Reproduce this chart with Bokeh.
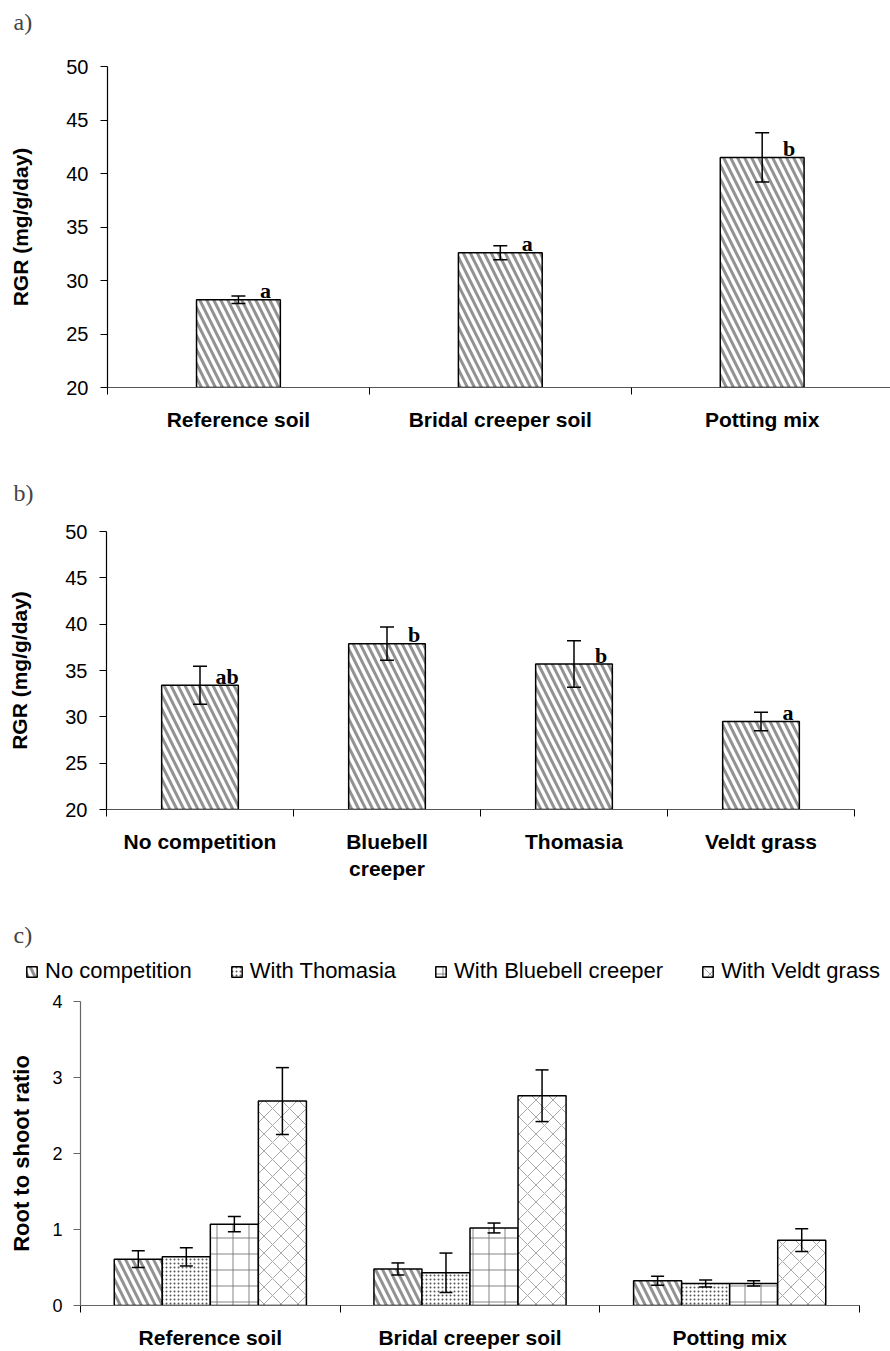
from bokeh.plotting import figure
from bokeh.models import (Range1d, FixedTicker, ColumnDataSource, Whisker, TeeHead,
                          Legend, LegendItem)
from bokeh.layouts import column, row
from bokeh.core.properties import value
from bokeh.embed import file_html
from bokeh.resources import INLINE

# ---------------- data ----------------
soils = ["Reference soil", "Bridal creeper soil", "Potting mix"]
rgr_soil = [28.2, 32.6, 41.5]
rgr_soil_err = [0.35, 0.65, 2.3]
letters_soil = ["a", "a", "b"]

competitors = ["No competition", "Bluebell\ncreeper", "Thomasia", "Veldt grass"]
rgr_comp = [33.4, 37.9, 35.7, 29.5]
rgr_comp_err = [2.05, 1.8, 2.5, 1.0]
letters_comp = ["ab", "b", "b", "a"]

treatments = ["No competition", "With Thomasia", "With Bluebell creeper", "With Veldt grass"]
rs_none = [0.61, 0.48, 0.325]
rs_none_err = [0.11, 0.08, 0.06]
rs_thomasia = [0.64, 0.43, 0.29]
rs_thomasia_err = [0.12, 0.26, 0.045]
rs_bluebell = [1.07, 1.02, 0.29]
rs_bluebell_err = [0.10, 0.065, 0.035]
rs_veldt = [2.69, 2.76, 0.86]
rs_veldt_err = [0.44, 0.34, 0.15]

rgr_ticks = [20, 25, 30, 35, 40, 45, 50]
rs_ticks = [0, 1, 2, 3, 4]

SANS = "Liberation Sans"
SERIF = "Liberation Serif"


def make_head(title, top, frame_h):
    """A strip holding the panel letter (and, for c, the legend)."""
    h = figure(frame_width=890, frame_height=frame_h, min_border_left=0, min_border_right=0,
               min_border_top=top, min_border_bottom=0, x_range=Range1d(0, 3),
               y_range=Range1d(0, 4), output_backend="svg", toolbar_location=None,
               title=title, x_axis_location=None, y_axis_location=None)
    h.outline_line_color = None
    h.xgrid.visible = False
    h.ygrid.visible = False
    h.background_fill_color = "white"
    h.border_fill_color = "white"
    h.title.text_font = SERIF
    h.title.text_font_style = "normal"
    h.title.text_font_size = "24px"
    h.title.align = "left"
    h.title.offset = 13
    h.title.standoff = 0
    return h


def base_fig(fw, fh, left, top, bottom, right, xr, yr):
    p = figure(frame_width=fw, frame_height=fh, min_border_left=left, min_border_top=top,
               min_border_bottom=bottom, min_border_right=right,
               x_range=xr, y_range=yr, output_backend="svg", toolbar_location=None)
    p.outline_line_color = None
    p.xgrid.visible = False
    p.ygrid.visible = False
    p.background_fill_color = "white"
    p.border_fill_color = "white"
    return p


def style_x(p, labels, font_size="21px"):
    n = len(labels)
    centers = [i + 0.5 for i in range(n)]
    ax = p.xaxis[0]
    ax.ticker = FixedTicker(ticks=centers, minor_ticks=list(range(n + 1)))
    ax.major_label_overrides = {c: l for c, l in zip(centers, labels)}
    ax.major_tick_out = 0
    ax.major_tick_in = 0
    ax.minor_tick_out = 7
    ax.minor_tick_in = 0
    ax.minor_tick_line_color = "black"
    ax.axis_line_color = "#555555"
    ax.axis_line_width = 1.2
    ax.major_label_text_font = SANS
    ax.major_label_text_font_style = "bold"
    ax.major_label_text_font_size = font_size
    ax.major_label_text_color = "black"
    ax.major_label_standoff = 13


def style_y(p, ticks, title, tick_fs, title_fs, tick_standoff, title_standoff, line_color):
    ax = p.yaxis[0]
    ax.ticker = FixedTicker(ticks=ticks)
    ax.major_tick_out = 7
    ax.major_tick_in = 0
    ax.minor_tick_out = 0
    ax.minor_tick_in = 0
    ax.axis_line_color = line_color
    ax.major_tick_line_color = line_color
    ax.axis_line_width = 1.2
    ax.major_label_text_font = SANS
    ax.major_label_text_font_size = tick_fs
    ax.major_label_text_color = "black"
    ax.major_label_standoff = tick_standoff
    ax.axis_label = title
    ax.axis_label_text_font = SANS
    ax.axis_label_text_font_style = "bold"
    ax.axis_label_text_font_size = title_fs
    ax.axis_label_text_color = "black"
    ax.axis_label_standoff = title_standoff


STRIPE = dict(hatch_pattern="\\", hatch_scale=14, hatch_weight=3, hatch_color="#929292")
BAR = dict(fill_color="white", line_color="black", line_width=1.5)


def add_whiskers(p, src, size):
    w = Whisker(base="x", upper="upper", lower="lower", source=src,
                line_color="black", line_width=1.5, level="overlay",
                upper_head=TeeHead(size=size, line_width=1.5, line_color="black"),
                lower_head=TeeHead(size=size, line_width=1.5, line_color="black"))
    p.add_layout(w)


def single_panel(labels, vals, errs, letters, fw, fh, left, top, bottom, right,
                 xr_end, bar_w):
    p = base_fig(fw, fh, left, top, bottom, right, Range1d(0, xr_end), Range1d(20, 50))
    xs = [i + 0.5 for i in range(len(labels))]
    src = ColumnDataSource(dict(x=xs, top=vals,
                                upper=[v + e for v, e in zip(vals, errs)],
                                lower=[v - e for v, e in zip(vals, errs)],
                                letters=letters))
    p.vbar(x="x", top="top", bottom=20, width=bar_w, source=src, **BAR, **STRIPE)
    add_whiskers(p, src, 14)
    p.text(x="x", y="top", text="letters", source=src, x_offset=27, y_offset=-9,
           text_align="center", text_baseline="alphabetic", text_font=value(SERIF),
           text_font_style="bold", text_font_size="22px", text_color="black",
           level="overlay")
    style_x(p, labels)
    style_y(p, rgr_ticks, "RGR (mg/g/day)", "20px", "21px", 12, 31, "black")
    return p


head_a = make_head("a)", 34, 1)
pa = single_panel(soils, rgr_soil, rgr_soil_err, letters_soil,
                  783, 321, 107, 31, 73, 0, 2.99, 0.32)
head_b = make_head("b)", 45, 1)
pb = single_panel(competitors, rgr_comp, rgr_comp_err, letters_comp,
                  748, 278, 106, 25, 82, 36, 4, 0.41)

# ---------------- panel c ----------------
series = [rs_none, rs_thomasia, rs_bluebell, rs_veldt]
series_err = [rs_none_err, rs_thomasia_err, rs_bluebell_err, rs_veldt_err]
hatches = [
    STRIPE,
    dict(hatch_pattern=".", hatch_scale=4, hatch_weight=1.2, hatch_color="#555555"),
    dict(hatch_pattern="+", hatch_scale=16, hatch_weight=1, hatch_color="#666666", hatch_alpha=0.8),
    dict(hatch_pattern="x", hatch_scale=17, hatch_weight=1, hatch_color="#a8a8a8"),
]
bw = 0.185
offsets = [-1.5 * bw, -0.5 * bw, 0.5 * bw, 1.5 * bw]

head_c = make_head("c)", 56, 42)
pc = base_fig(779, 304, 80, 12, 46, 31, Range1d(0, 3), Range1d(0, 4))

items = []
for name, vals, errs, hatch, off in zip(treatments, series, series_err, hatches, offsets):
    xs = [i + 0.5 + off for i in range(len(soils))]
    src = ColumnDataSource(dict(x=xs, top=vals,
                                upper=[v + e for v, e in zip(vals, errs)],
                                lower=[v - e for v, e in zip(vals, errs)]))
    pc.vbar(x="x", top="top", bottom=0, width=bw, source=src, **BAR, **hatch)
    add_whiskers(pc, src, 13)
    # hidden twin in the header strip: only its legend swatch is shown
    r = head_c.vbar(x="x", top="top", bottom=0, width=bw, source=src, visible=False,
                    **BAR, **hatch)
    items.append(LegendItem(label=name, renderers=[r]))

legend = Legend(items=items, orientation="horizontal", location=(25, 5),
                glyph_width=13, glyph_height=13, label_standoff=7, spacing=38,
                padding=0, margin=0, border_line_color=None, background_fill_alpha=0,
                inactive_fill_alpha=0,
                label_text_font=SANS, label_text_font_size="22px", label_text_color="black")
head_c.add_layout(legend)

style_x(pc, soils)
style_y(pc, rs_ticks, "Root to shoot ratio", "18px", "22px", 11, 15, "#666666")
pc.xaxis[0].axis_line_color = "#666666"

layout = column(row(head_a), row(pa), row(head_b), row(pb), row(head_c), row(pc), spacing=0)
open("out.html", "w").write(file_html(layout, INLINE))
